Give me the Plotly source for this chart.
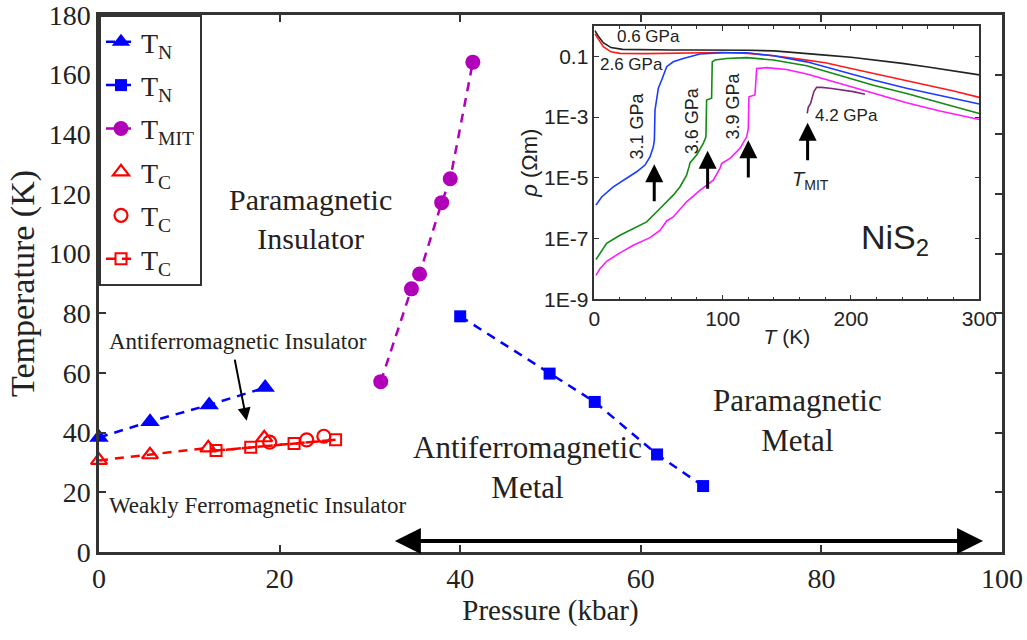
import plotly.graph_objects as go

# ---------------- main phase diagram data ----------------
tn_tri_p = [0, 5.65, 12.2, 18.4]
tn_tri_t = [38.4, 43.7, 49.3, 55.1]

tn_sq_p = [40.0, 49.9, 54.9, 61.8, 66.9]
tn_sq_t = [79.0, 59.8, 50.3, 32.7, 22.1]

tmit_p = [31.2, 34.6, 35.5, 37.95, 38.9, 41.4]
tmit_t = [57.1, 88.2, 93.2, 117.1, 125.1, 164.2]

tc_tri_p = [0, 5.65, 12.1, 18.3]
tc_tri_t = [30.7, 32.6, 34.9, 38.3]

tc_cir_p = [18.9, 23.0, 24.9]
tc_cir_t = [36.8, 37.6, 38.8]

tc_sq_p = [12.96, 16.8, 21.6, 26.2]
tc_sq_t = [34.0, 35.1, 36.4, 37.6]

x_ticks = [0, 20, 40, 60, 80, 100]
y_ticks = [0, 20, 40, 60, 80, 100, 120, 140, 160, 180]

# ---------------- inset resistivity data (T in K, log10 rho in Ohm m) ----------------
g06_T = [0.5, 3, 7, 13, 22, 40, 60, 80, 100, 120, 140, 160, 180, 200, 220, 240, 260, 280, 300]
g06_logr = [-0.15, -0.33, -0.55, -0.71, -0.77, -0.79, -0.79, -0.79, -0.79, -0.80, -0.82, -0.88,
            -0.96, -1.03, -1.12, -1.23, -1.35, -1.47, -1.61]

g26_T = [0.5, 3, 7, 13, 20, 40, 60, 80, 100, 120, 140, 160, 180, 200, 220, 240, 260, 280, 300]
g26_logr = [-0.26, -0.44, -0.68, -0.85, -0.90, -0.91, -0.90, -0.88, -0.87, -0.90, -0.98, -1.09,
            -1.21, -1.40, -1.58, -1.78, -1.95, -2.14, -2.35]

g31_T = [1.3, 5.7, 14.8, 25.2, 33.0, 39.5, 43.4, 46.0, 46.8, 47.3, 48.6, 49.9, 52.5, 56.4, 61.5,
         69.3, 82.3, 100, 118.7, 139.5, 165.5, 191.4, 217.4, 243.3, 269.3, 300]
g31_logr = [-5.90, -5.63, -5.30, -5.02, -4.80, -4.58, -4.31, -3.98, -3.76, -2.77, -2.44, -2.05,
            -1.78, -1.34, -1.18, -1.07, -0.92, -0.88, -0.88, -0.98, -1.18, -1.48, -1.78, -2.05,
            -2.30, -2.57]

g36_T = [1.3, 4.4, 9.6, 20.0, 30.4, 40.8, 51.2, 61.5, 66.7, 71.9, 73.8, 74.5, 79.7, 84.9, 87.0,
         87.5, 91.4, 91.9, 94.0, 103.1, 118.7, 139.5, 165.5, 191.4, 217.4, 243.3, 269.3, 300]
g36_logr = [-7.69, -7.49, -7.16, -6.89, -6.67, -6.45, -6.01, -5.57, -5.30, -4.91, -4.64, -4.51,
            -4.25, -3.87, -3.65, -2.44, -2.38, -1.18, -1.12, -1.07, -1.04, -1.12, -1.31, -1.62,
            -1.95, -2.22, -2.52, -2.88]

g39_T = [1.3, 4.4, 9.6, 20.0, 30.4, 43.4, 51.2, 56.4, 61.5, 71.9, 82.3, 92.7, 97.9, 99.2, 105.7,
         113.5, 118.7, 120.0, 120.5, 125.2, 126.5, 134.3, 149.8, 165.5, 191.4, 217.4, 243.3,
         269.3, 300]
g39_logr = [-8.21, -7.99, -7.75, -7.47, -7.22, -6.97, -6.73, -6.42, -6.29, -5.79, -5.41, -5.08,
            -4.69, -4.53, -4.36, -4.03, -3.65, -3.37, -2.33, -2.27, -1.40, -1.37, -1.43, -1.58,
            -1.89, -2.22, -2.53, -2.80, -3.08]

g42_T = [165.9, 166.7, 168.5, 170.1, 171.1, 173.2, 177.1, 183.6, 191.4, 201.8, 210.9]
g42_logr = [-2.88, -2.68, -2.55, -2.33, -2.16, -2.02, -2.02, -2.05, -2.09, -2.16, -2.25]

SERIF = "Liberation Serif"
SANS = "Liberation Sans"
INK = "#222222"
DASH = "9px,7px"

fig = go.Figure()

# connecting dashed line for T_C triangles -> squares (no legend)
fig.add_trace(go.Scatter(x=tc_tri_p[:3] + tc_sq_p, y=tc_tri_t[:3] + tc_sq_t, mode="lines",
                         line=dict(color="red", width=2.5, dash=DASH),
                         showlegend=False, hoverinfo="skip"))

fig.add_trace(go.Scatter(x=tn_tri_p, y=tn_tri_t, mode="lines+markers", name="T<sub>N</sub>",
                         legendgroup="g1",
                         line=dict(color="blue", width=2.5, dash=DASH),
                         marker=dict(symbol="triangle-up", size=17, color="blue"),
                         cliponaxis=False))
fig.add_trace(go.Scatter(x=tn_sq_p, y=tn_sq_t, mode="lines+markers", name="T<sub>N</sub>",
                         legendgroup="g2",
                         line=dict(color="blue", width=2.5, dash=DASH),
                         marker=dict(symbol="square", size=12, color="blue"),
                         cliponaxis=False))
fig.add_trace(go.Scatter(x=tmit_p, y=tmit_t, mode="lines+markers", name="T<sub>MIT</sub>",
                         legendgroup="g3",
                         line=dict(color="#b000b8", width=2.5, dash=DASH),
                         marker=dict(symbol="circle", size=15, color="#b000b8"),
                         cliponaxis=False))
fig.add_trace(go.Scatter(x=tc_tri_p, y=tc_tri_t, mode="markers", name="T<sub>C</sub>",
                         legendgroup="g4",
                         marker=dict(symbol="triangle-up-open", size=14, color="red",
                                     line=dict(width=2.2, color="red")),
                         cliponaxis=False))
fig.add_trace(go.Scatter(x=tc_cir_p, y=tc_cir_t, mode="markers", name="T<sub>C</sub>",
                         legendgroup="g5",
                         marker=dict(symbol="circle-open", size=13, color="red",
                                     line=dict(width=2.2, color="red")),
                         cliponaxis=False))
fig.add_trace(go.Scatter(x=tc_sq_p, y=tc_sq_t, mode="lines+markers", name="T<sub>C</sub>",
                         legendgroup="g6",
                         line=dict(color="red", width=2.5, dash=DASH),
                         marker=dict(symbol="square-open", size=11, color="red",
                                     line=dict(width=2, color="red")),
                         cliponaxis=False))

# ---------------- inset ----------------
inset = [
    (g06_T, g06_logr, "#222222"),
    (g26_T, g26_logr, "#ff1a1a"),
    (g31_T, g31_logr, "#1a3cff"),
    (g36_T, g36_logr, "#138a13"),
    (g39_T, g39_logr, "#ff1aff"),
    (g42_T, g42_logr, "#7a2a7a"),
]
for tt, lr, col in inset:
    fig.add_trace(go.Scatter(x=tt, y=[10 ** v for v in lr], mode="lines",
                             line=dict(color=col, width=1.6), xaxis="x2", yaxis="y2",
                             showlegend=False, hoverinfo="skip"))

annotations = []


def txt(x, y, s, size, ref="", font=SERIF, **kw):
    d = dict(x=x, y=y, text=s, showarrow=False, xref="x" + ref, yref="y" + ref,
             font=dict(family=font, size=size, color=INK), align="center")
    d.update(kw)
    annotations.append(d)


txt(23.4, 111.5, "Paramagnetic<br>Insulator", 30)
txt(15.4, 70.7, "Antiferromagnetic Insulator", 23)
txt(17.5, 15.7, "Weakly Ferromagnetic Insulator", 23)
txt(47.5, 28.3, "Antiferromagnetic<br>Metal", 31)
txt(77.4, 44.0, "Paramagnetic<br>Metal", 31)

# arrow to antiferromagnetic insulator
annotations.append(dict(x=16.35, y=44.0, ax=15.0, ay=65.0, xref="x", yref="y", axref="x", ayref="y",
                        text="", showarrow=True, arrowhead=2, arrowsize=1.3, arrowwidth=2,
                        arrowcolor="black"))
# double arrow along bottom
annotations.append(dict(x=97.9, y=3.7, ax=32.6, ay=3.7, xref="x", yref="y", axref="x", ayref="y",
                        text="", showarrow=True, arrowhead=2, arrowsize=1.3, arrowwidth=4,
                        arrowside="end+start", arrowcolor="black"))

# inset labels
txt(42, -0.35, "0.6 GPa", 17, ref="2", font=SANS)
txt(29, -1.26, "2.6 GPa", 17, ref="2", font=SANS)
txt(33.5, -3.30, "3.1 GPa", 18, ref="2", font=SANS, textangle=-90)
txt(75.8, -3.12, "3.6 GPa", 18, ref="2", font=SANS, textangle=-90)
txt(108.3, -2.64, "3.9 GPa", 18, ref="2", font=SANS, textangle=-90)
txt(196.6, -2.96, "4.2 GPa", 17, ref="2", font=SANS)
txt(168.5, -5.08, "<i>T</i><sub>MIT</sub>", 20, ref="2", font=SANS)
txt(234, -7.03, "NiS<sub>2</sub>", 34, ref="2", font=SANS)

inset_arrows = [(46.7, -5.82, -4.55), (88.3, -5.41, -4.11), (120.0, -5.04, -3.76), (166.2, -4.47, -3.19)]
for xa, y0, y1 in inset_arrows:
    annotations.append(dict(x=xa, y=y1, ax=xa, ay=y0, xref="x2", yref="y2", axref="x2", ayref="y2",
                            text="", showarrow=True, arrowhead=2, arrowsize=1.2, arrowwidth=3,
                            arrowcolor="black"))

axis_common = dict(showline=True, mirror="ticks", linecolor="#333333", linewidth=2.5,
                   ticks="inside", ticklen=7, tickwidth=2, tickcolor="#333333",
                   showgrid=False, zeroline=False, ticklabeloverflow="allow")

fig.update_layout(
    width=1027, height=640,
    margin=dict(l=99, r=25, t=15, b=88, autoexpand=False),
    paper_bgcolor="white", plot_bgcolor="white",
    font=dict(family=SERIF, color=INK),
    xaxis=dict(range=[0, 100.0001], tickmode="array", tickvals=x_ticks, domain=[0, 1],
               tickfont=dict(family=SERIF, size=28, color=INK),
               title=dict(text="Pressure (kbar)", font=dict(family=SERIF, size=29, color=INK),
                          standoff=5),
               **axis_common),
    yaxis=dict(range=[0, 180.0001], tickmode="array", tickvals=y_ticks, domain=[0, 1],
               tickfont=dict(family=SERIF, size=28, color=INK),
               title=dict(text="Temperature (K)", font=dict(family=SERIF, size=34, color=INK),
                          standoff=4),
               **axis_common),
    xaxis2=dict(domain=[0.5485, 0.9749], anchor="y2", range=[0, 300],
                tickvals=[0, 100, 200, 300], showline=True, mirror="ticks",
                linecolor="#333333", linewidth=1.5, ticks="inside", ticklen=5, tickwidth=1.2,
                tickcolor="#333333", showgrid=False, zeroline=False,
                minor=dict(ticks="inside", ticklen=3, dtick=20, tickcolor="#333333"),
                tickfont=dict(family=SANS, size=21, color=INK),
                title=dict(text="<i>T</i> (K)", font=dict(family=SANS, size=21, color=INK),
                           standoff=0)),
    yaxis2=dict(domain=[0.4706, 0.9795], anchor="x2", type="log", range=[-9, 0],
                tickvals=[1e-9, 1e-7, 1e-5, 1e-3, 1e-1],
                ticktext=["1E-9", "1E-7", "1E-5", "1E-3", "0.1"],
                showline=True, mirror="ticks", linecolor="#333333", linewidth=1.5,
                ticks="inside", ticklen=5, tickwidth=1.2, tickcolor="#333333",
                showgrid=False, zeroline=False,
                tickfont=dict(family=SANS, size=21, color=INK),
                title=dict(text="<i>ρ</i> (Ωm)", font=dict(family=SANS, size=22, color=INK),
                           standoff=0)),
    legend=dict(x=0, y=1, xanchor="left", yanchor="top", bgcolor="white",
                bordercolor="#333333", borderwidth=2,
                font=dict(family=SERIF, size=28, color=INK), tracegroupgap=4,
                itemwidth=30),
    annotations=annotations,
    showlegend=True,
)

fig.write_html("out.html")
